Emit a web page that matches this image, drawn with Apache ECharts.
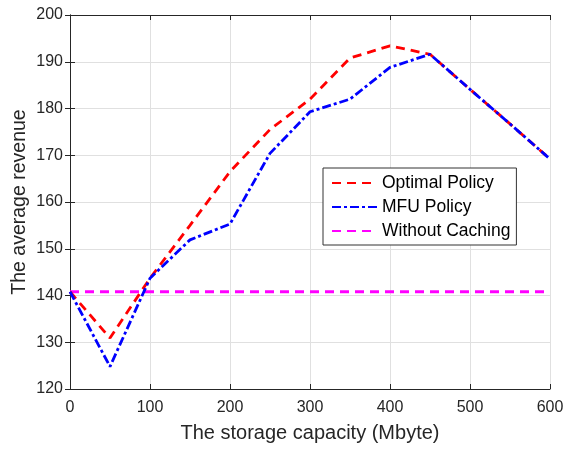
<!DOCTYPE html>
<html>
<head>
<meta charset="utf-8">
<script src="https://cdn.jsdelivr.net/npm/echarts@6/dist/echarts.min.js"></script>
<style>
  html, body { margin: 0; padding: 0; background: #fff; }
  #main { width: 568px; height: 453px; }
</style>
</head>
<body>
<div id="main"></div>
<script>
// storage capacity (Mbyte)
const capacity = [0, 50, 100, 150, 200, 250, 300, 350, 400, 450, 500, 550, 600];
// average revenue
const optimalPolicy = [140.8, 130.9, 143.7, 155.0, 166.5, 175.5, 182.0, 190.8, 193.4, 191.6, 184.1, 176.7, 169.2];
const mfuPolicy = [140.8, 124.8, 143.7, 151.9, 155.3, 170.4, 179.3, 182.0, 188.8, 191.6, 184.1, 176.7, 169.2];
const withoutCaching = [140.8, 140.8, 140.8, 140.8, 140.8, 140.8, 140.8, 140.8, 140.8, 140.8, 140.8, 140.8, 140.8];
const seriesNames = ['Optimal Policy', 'MFU Policy', 'Without Caching'];

const font = 'Liberation Sans, Arial, Helvetica, sans-serif';
const chart = echarts.init(document.getElementById('main'), null, { renderer: 'canvas' });

function pairs(ys) {
  return capacity.map((x, i) => [x, ys[i]]);
}

const axisLine = { show: true, lineStyle: { color: '#262626', width: 1 } };
const tick = { show: true, inside: true, length: 5, lineStyle: { color: '#262626' } };
const grid = { show: true, lineStyle: { color: '#e0e0e0', width: 1 } };

const option = {
  animation: false,
  backgroundColor: '#fff',
  grid: { left: 70, right: 18, top: 15, bottom: 64, outerBoundsMode: 'none', containLabel: false },
  legend: {
    data: seriesNames,
    orient: 'vertical',
    left: 323, top: 168,
    itemWidth: 45, itemHeight: 14, itemGap: 6,
    padding: [6, 6, 5, 8],
    backgroundColor: '#fff',
    borderColor: '#333', borderWidth: 1,
    itemStyle: { opacity: 0 },
    textStyle: { fontFamily: font, fontSize: 17.5, color: '#000' }
  },
  xAxis: [{
    type: 'value', min: 0, max: 600, interval: 100,
    name: 'The storage capacity (Mbyte)', nameLocation: 'middle', nameGap: 34,
    nameMoveOverlap: false,
    nameTextStyle: { fontFamily: font, fontSize: 20, color: '#262626' },
    axisLine, axisTick: tick, splitLine: grid,
    axisLabel: { fontFamily: font, fontSize: 16, color: '#262626', margin: 11 }
  }, {
    type: 'value', min: 0, max: 600, interval: 100, position: 'top',
    axisLine, axisTick: tick, splitLine: { show: false }, axisLabel: { show: false }
  }],
  yAxis: [{
    type: 'value', min: 120, max: 200, interval: 10,
    name: 'The average revenue', nameLocation: 'middle', nameGap: 40,
    nameMoveOverlap: false,
    nameTextStyle: { fontFamily: font, fontSize: 19.5, color: '#262626' },
    axisLine, axisTick: tick, splitLine: grid,
    axisLabel: { fontFamily: font, fontSize: 16, color: '#262626', margin: 7 }
  }, {
    type: 'value', min: 120, max: 200, interval: 10, position: 'right',
    axisLine, axisTick: tick, splitLine: { show: false }, axisLabel: { show: false }
  }],
  series: [{
    name: seriesNames[0], type: 'line', data: pairs(optimalPolicy),
    symbol: 'none', z: 3,
    itemStyle: { color: '#ff0000' },
    lineStyle: { color: '#ff0000', width: 2.8, type: [9, 6] }
  }, {
    name: seriesNames[1], type: 'line', data: pairs(mfuPolicy),
    symbol: 'none', z: 4,
    itemStyle: { color: '#0000ff' },
    lineStyle: { color: '#0000ff', width: 2.8, type: [9, 3, 3, 3] }
  }, {
    name: seriesNames[2], type: 'line', data: pairs(withoutCaching),
    symbol: 'none', z: 2,
    itemStyle: { color: '#ff00ff' },
    lineStyle: { color: '#ff00ff', width: 2.8, type: [9, 6] }
  }]
};

chart.setOption(option);
</script>
</body>
</html>
